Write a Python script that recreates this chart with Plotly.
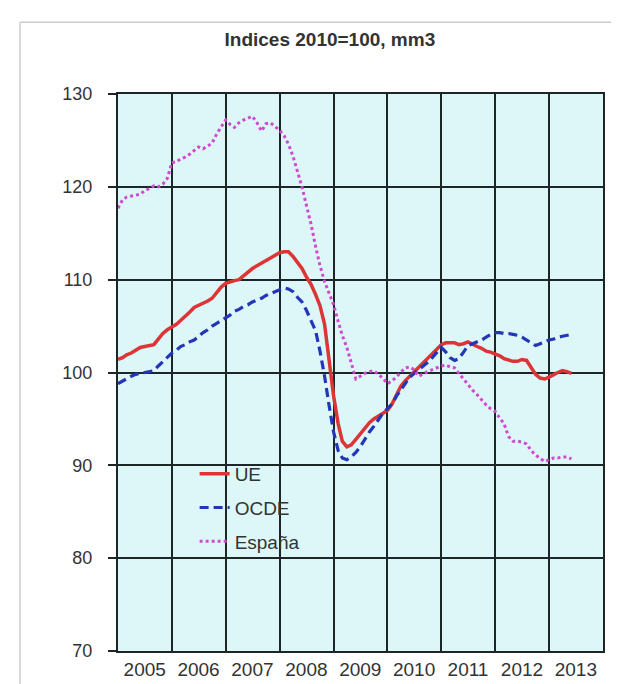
import pandas as pd
import plotly.graph_objects as go

# ---- data (monthly, indices 2010=100, 3-month moving average) ----
start_month = "2005-01-01"
years = [2005, 2006, 2007, 2008, 2009, 2010, 2011, 2012, 2013]
year_labels = [str(y) for y in years]

ue = [101.4, 101.6, 101.9, 102.1, 102.4, 102.7, 102.8, 102.9, 103.0, 103.6, 104.2, 104.6,
      104.9, 105.2, 105.6, 106.0, 106.5, 107.0, 107.2, 107.4, 107.7, 108.0, 108.6, 109.2,
      109.6, 109.8, 109.9, 110.0, 110.4, 110.9, 111.2, 111.5, 111.8, 112.1, 112.4, 112.7,
      112.9, 113.0, 113.0, 112.5, 111.9, 111.2, 110.3, 109.5, 108.4, 107.2, 105.2, 101.5,
      97.5, 94.5, 92.6, 92.0, 92.2, 92.8, 93.4, 94.1, 94.6, 95.0, 95.3, 95.6,
      95.9, 96.6, 97.5, 98.5, 99.1, 99.6, 100.1, 100.6, 101.0, 101.5, 102.0, 102.5,
      103.0, 103.2, 103.2, 103.2, 103.0, 103.1, 103.3, 103.0, 102.8, 102.6, 102.3, 102.2,
      102.0, 101.8, 101.5, 101.3, 101.2, 101.2, 101.4, 101.3, 100.6, 99.8, 99.4, 99.3,
      99.5, 99.8, 100.0, 100.2, 100.1, 99.9]

ocde = [98.8, 99.1, 99.4, 99.6, 99.8, 99.9, 100.0, 100.1, 100.2, 100.7, 101.2, 101.7,
        102.1, 102.4, 102.8, 103.0, 103.3, 103.5, 103.9, 104.3, 104.6, 105.0, 105.3, 105.6,
        105.9, 106.2, 106.6, 106.8, 107.1, 107.3, 107.6, 107.8, 108.0, 108.3, 108.5, 108.7,
        108.9, 109.1, 109.0, 108.7, 108.1, 107.6, 106.7, 105.6, 104.5, 102.3, 99.6, 96.5,
        93.6, 91.6, 90.8, 90.6, 90.9, 91.4, 92.0, 92.8, 93.6, 94.2, 94.9, 95.6,
        96.1, 96.6, 97.4, 98.1, 98.9, 99.5, 99.9, 100.3, 100.7, 101.1, 101.6, 102.2,
        102.7, 102.2, 101.6, 101.3, 101.5, 102.2, 102.9, 103.1, 103.3, 103.5, 103.8, 104.1,
        104.3, 104.3, 104.2, 104.2, 104.1, 104.0, 103.8, 103.5, 103.1, 102.9, 103.1, 103.3,
        103.5, 103.6, 103.8, 103.9, 104.0, 104.1]

espana = [117.7, 118.6, 118.9, 119.0, 119.1, 119.2, 119.6, 119.8, 120.1, 120.0, 120.3, 120.9,
          122.6, 122.7, 123.0, 123.2, 123.5, 123.9, 124.3, 124.1, 124.4, 124.7, 125.7, 126.5,
          127.2, 126.7, 126.4, 126.9, 127.2, 127.4, 127.6, 126.9, 126.0, 126.8, 126.9, 126.5,
          126.1, 125.5, 124.6, 123.3, 121.8, 120.0, 118.0, 116.0, 113.6, 111.5, 109.8, 108.5,
          107.3, 105.5, 104.0, 102.7, 100.9, 99.3, 99.6, 99.9, 100.1, 100.2, 99.8, 99.4,
          98.8, 99.1, 99.5, 100.0, 100.5, 100.6, 100.3, 99.6, 99.9, 100.1, 100.3, 100.5,
          100.7, 100.8, 100.6, 100.5, 99.9, 99.2, 98.6, 98.1, 97.6, 97.0, 96.5, 96.1,
          95.8, 95.1, 94.5, 93.1, 92.6, 92.6, 92.5, 92.3, 91.6, 91.1, 90.7, 90.4,
          90.6, 90.8, 90.8, 90.9, 90.9, 90.7]

series_names = ["UE", "OCDE", "España"]


def months(n):
    return pd.date_range(start_month, periods=n, freq="MS")


FONT = "Liberation Sans, Arial, sans-serif"
GRID = "#1c2626"

fig = go.Figure()
fig.add_trace(go.Scatter(x=months(len(ue)), y=ue, name=series_names[0], mode="lines",
                         legendgroup="g1",
                         line=dict(color="#dd3535", width=3.5)))
fig.add_trace(go.Scatter(x=months(len(ocde)), y=ocde, name=series_names[1], mode="lines",
                         legendgroup="g2",
                         line=dict(color="#2336b8", width=3.2, dash="9px,5px")))
fig.add_trace(go.Scatter(x=months(len(espana)), y=espana, name=series_names[2], mode="lines",
                         legendgroup="g3",
                         line=dict(color="#d04ad0", width=3, dash="dot")))

mid_year = [f"{y}-07-01" for y in years]
year_starts = [f"{y}-01-01" for y in years[1:]]

fig.update_layout(
    width=619, height=684,
    margin=dict(l=110, r=24, t=86, b=33),
    paper_bgcolor="white",
    plot_bgcolor="#ddf7f9",
    font=dict(family=FONT, size=18, color="#333333"),
    title=dict(text="<b>Indices 2010=100, mm3</b>", x=0.52, xanchor="center",
               y=1 - 31 / 684, yanchor="middle", yref="container",
               font=dict(family=FONT, size=19, color="#333333")),
    showlegend=True,
    legend=dict(x=0.158, y=0.352, xanchor="left", yanchor="top",
                bgcolor="rgba(0,0,0,0)", borderwidth=0,
                font=dict(family=FONT, size=19, color="#333333"),
                tracegroupgap=6),
    xaxis=dict(type="date", range=["2005-01-01", "2014-01-01"],
               tickvals=mid_year, ticktext=year_labels, ticks="",
               showgrid=False, zeroline=False,
               showline=True, linecolor=GRID, linewidth=2, mirror=True,
               tickfont=dict(size=19),
               minor=dict(tickvals=year_starts, showgrid=True, gridcolor=GRID,
                          gridwidth=1.5, ticks="")),
    yaxis=dict(range=[70, 130], tickvals=[70, 80, 90, 100, 110, 120, 130],
               showgrid=True, gridcolor=GRID, gridwidth=1.5, zeroline=False,
               ticks="outside", ticklen=8, tickcolor=GRID, tickwidth=1.5,
               showline=True, linecolor=GRID, linewidth=2, mirror=True,
               ticklabelstandoff=12, tickfont=dict(size=18)),
    shapes=[
        dict(type="line", xref="paper", yref="paper", x0=-0.202, x1=1.05, y0=1.129, y1=1.129,
             line=dict(color="#cccccc", width=1.5)),
        dict(type="line", xref="paper", yref="paper", x0=-0.202, x1=-0.202, y0=1.129, y1=-0.06,
             line=dict(color="#cccccc", width=1.5)),
    ],
)

fig.write_html("out.html")
